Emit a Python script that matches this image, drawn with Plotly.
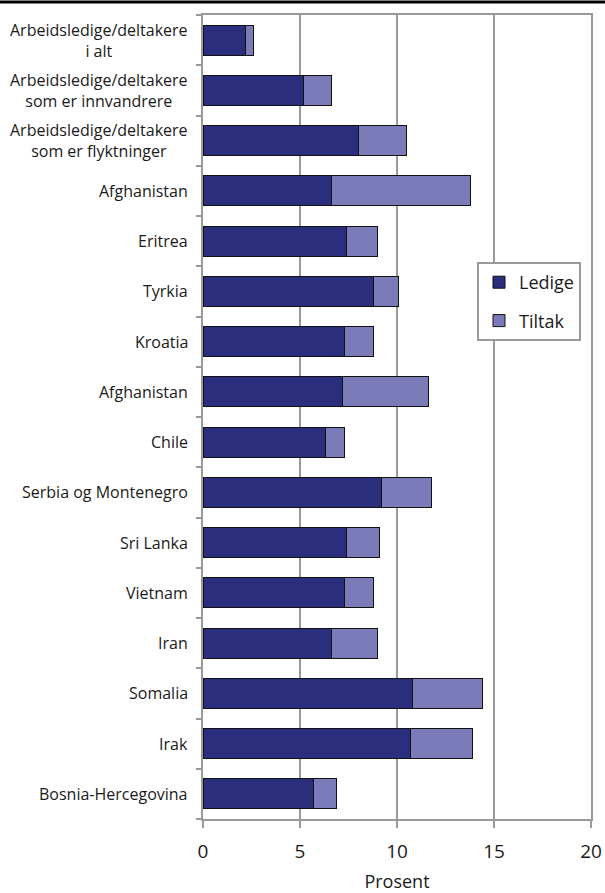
import plotly.graph_objects as go

labels = [
    "Arbeidsledige/deltakere<br>i alt",
    "Arbeidsledige/deltakere<br>som er innvandrere",
    "Arbeidsledige/deltakere<br>som er flyktninger",
    "Afghanistan",
    "Eritrea",
    "Tyrkia",
    "Kroatia",
    "Afghanistan",
    "Chile",
    "Serbia og Montenegro",
    "Sri Lanka",
    "Vietnam",
    "Iran",
    "Somalia",
    "Irak",
    "Bosnia-Hercegovina",
]
ledige = [2.2, 5.2, 8.0, 6.6, 7.4, 8.8, 7.3, 7.2, 6.3, 9.2, 7.4, 7.3, 6.6, 10.8, 10.7, 5.7]
tiltak = [0.4, 1.4, 2.5, 7.2, 1.6, 1.3, 1.5, 4.4, 1.0, 2.6, 1.7, 1.5, 2.4, 3.6, 3.2, 1.2]
x_ticks = [0, 5, 10, 15, 20]
x_title = "Prosent"

W, H = 605, 893
L, R, T, B = 203, 14, 15, 74
pw, ph = W - L - R, H - T - B

FONT = "Open Sans"
TXT = "#1a1a1a"
GRID = "#9a9a9a"

n = len(labels)
pos = list(range(n))

fig = go.Figure()
fig.add_trace(go.Bar(
    y=pos, x=ledige, orientation="h", name="Ledige",
    marker=dict(color="#2b2e7c", line=dict(color="#111111", width=1)),
    legendgroup="a",
))
fig.add_trace(go.Bar(
    y=pos, x=tiltak, orientation="h", name="Tiltak",
    marker=dict(color="#7b7bba", line=dict(color="#111111", width=1)),
    legendgroup="b",
))
# invisible trace to drive the tick-mark axis at category boundaries
fig.add_trace(go.Scatter(y=[-0.5, n - 0.5], x=[0, 0], yaxis="y2", mode="none",
                         showlegend=False, hoverinfo="skip"))

for i, lab in enumerate(labels):
    fig.add_annotation(
        x=(190 - L) / pw, xref="paper", y=i, yref="y",
        text=lab, showarrow=False, xanchor="right", yanchor="middle",
        align="center", font=dict(family=FONT, size=16, color=TXT),
    )

fig.update_layout(
    width=W, height=H,
    margin=dict(l=L, r=R, t=T, b=B, autoexpand=False),
    paper_bgcolor="white", plot_bgcolor="white",
    barmode="stack", bargap=0.4,
    font=dict(family=FONT, color=TXT),
    xaxis=dict(
        range=[0, 20], tickvals=x_ticks, ticktext=[str(v) for v in x_ticks],
        showgrid=True, gridcolor=GRID, gridwidth=2,
        showline=True, linecolor=GRID, linewidth=2, mirror=True,
        ticks="outside", ticklen=7, tickwidth=2, tickcolor=GRID,
        ticklabelstandoff=7,
        tickfont=dict(family=FONT, size=19, color=TXT),
        title=dict(text=x_title, font=dict(family=FONT, size=18, color=TXT), standoff=16),
        zeroline=False,
    ),
    yaxis=dict(
        range=[n - 0.5, -0.5], tickvals=pos, showticklabels=False,
        showgrid=False, zeroline=False, ticks="",
        showline=True, linecolor=GRID, linewidth=2, mirror=True,
    ),
    yaxis2=dict(
        overlaying="y", side="left", range=[n - 0.5, -0.5],
        tickvals=[i - 0.5 for i in range(n + 1)], showticklabels=False,
        ticks="outside", ticklen=6, tickwidth=2, tickcolor=GRID,
        showgrid=False, zeroline=False, showline=False,
    ),
    legend=dict(
        x=(477 - L) / pw, y=1 - (262 - T) / ph, xanchor="left", yanchor="top",
        bgcolor="white", bordercolor=GRID, borderwidth=2,
        font=dict(family=FONT, size=18, color=TXT),
        traceorder="grouped", tracegroupgap=12, itemwidth=30,
    ),
    showlegend=True,
)

fig.add_shape(type="line", xref="paper", yref="paper",
              x0=-L / pw, x1=1 + R / pw, y0=1 + 13 / ph, y1=1 + 13 / ph,
              line=dict(color="black", width=3))

fig.write_html("out.html", config={"displayModeBar": False},
               post_script="document.body.style.margin='0';document.body.style.padding='0';")
